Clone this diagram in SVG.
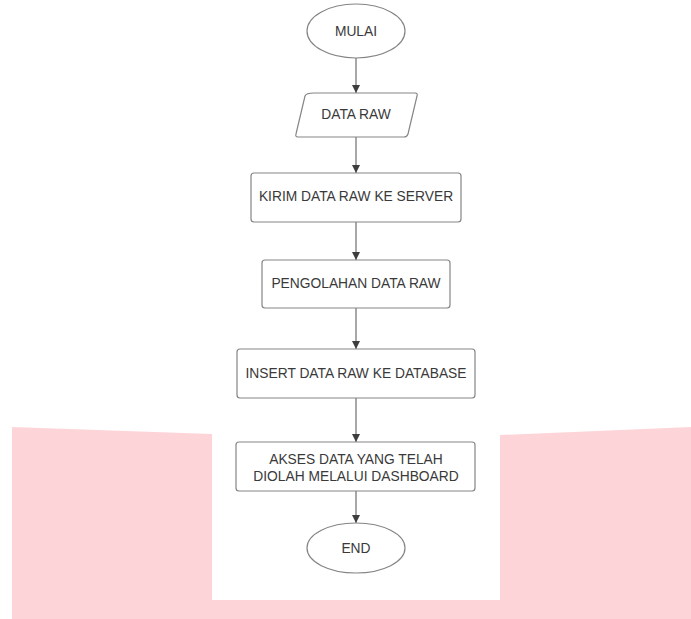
<svg xmlns="http://www.w3.org/2000/svg" width="691" height="619" viewBox="0 0 691 619">
<defs>
<style>
.shape{fill:#ffffff;stroke:#858585;stroke-width:1.2}
.lbl{font-family:"Liberation Sans",Arial,sans-serif;font-size:13.8px;fill:#3a3a3a;text-anchor:middle;dominant-baseline:central}
.conn{stroke:#6e6e6e;stroke-width:1.2;fill:none}
</style>
<marker id="arr" viewBox="0 0 10 10" refX="10" refY="5" markerWidth="8" markerHeight="9" markerUnits="userSpaceOnUse" orient="auto">
<path d="M0,0 L10,5 L0,10 z" fill="#3e3e3e"/>
</marker>
</defs>
<rect width="691" height="619" fill="#ffffff"/>
<polygon points="12,427 212,434 212,600 500,600 500,435 691,427 691,619 12,619" fill="#fdd5d9"/>
<g id="connectors">
<line class="conn" x1="356" y1="58" x2="356" y2="93" marker-end="url(#arr)"/>
<line class="conn" x1="356" y1="137" x2="356" y2="173" marker-end="url(#arr)"/>
<line class="conn" x1="356" y1="222" x2="356" y2="260" marker-end="url(#arr)"/>
<line class="conn" x1="356" y1="308" x2="356" y2="349" marker-end="url(#arr)"/>
<line class="conn" x1="356" y1="398" x2="356" y2="442" marker-end="url(#arr)"/>
<line class="conn" x1="356" y1="491" x2="356" y2="523" marker-end="url(#arr)"/>
</g>
<g id="mulai">
<ellipse class="shape" cx="356" cy="31" rx="49" ry="27"/>
<text class="lbl" x="356" y="31">MULAI</text>
</g>
<g id="data-raw">
<path class="shape" d="M314,93 L415,93 Q418,93 417,96 L408,134 Q407,137 404,137 L298,137 Q295,137 296,134 L305,96 Q306,93 314,93 z"/>
<text class="lbl" x="356" y="114">DATA RAW</text>
</g>
<g id="kirim">
<rect class="shape" x="251" y="173" width="210" height="49" rx="3"/>
<text class="lbl" x="356" y="196">KIRIM DATA RAW KE SERVER</text>
</g>
<g id="pengolahan">
<rect class="shape" x="262" y="260" width="188" height="48" rx="3"/>
<text class="lbl" x="356" y="283">PENGOLAHAN DATA RAW</text>
</g>
<g id="insert">
<rect class="shape" x="237" y="349" width="238" height="49" rx="3"/>
<text class="lbl" x="356" y="373">INSERT DATA RAW KE DATABASE</text>
</g>
<g id="akses">
<rect class="shape" x="236" y="442" width="239" height="49" rx="3"/>
<text class="lbl" x="356" y="459">AKSES DATA YANG TELAH</text>
<text class="lbl" x="356" y="476">DIOLAH MELALUI DASHBOARD</text>
</g>
<g id="end">
<ellipse class="shape" cx="356" cy="548" rx="49" ry="25"/>
<text class="lbl" x="356" y="548">END</text>
</g>
</svg>
